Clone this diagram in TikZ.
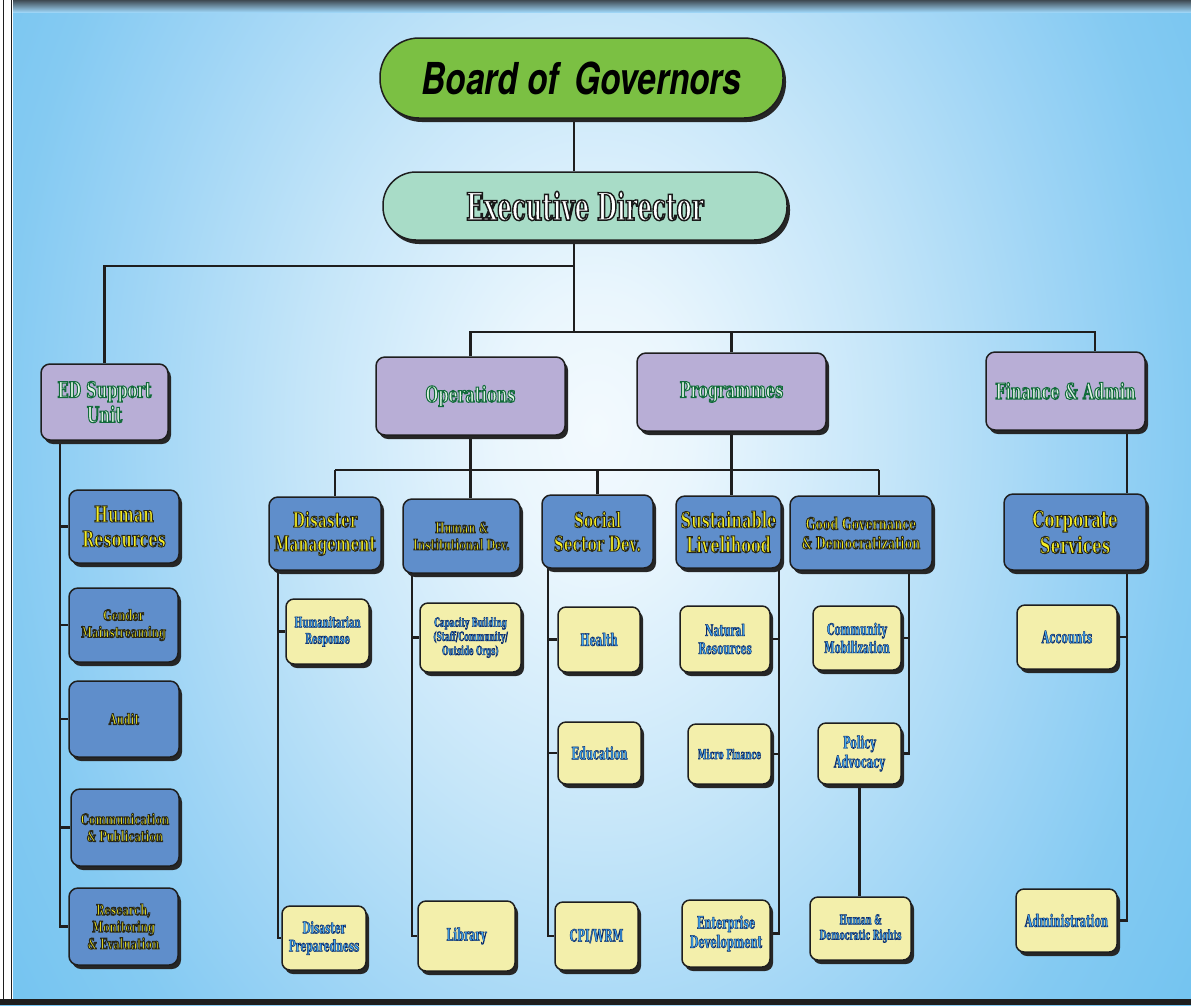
\documentclass[tikz,border=0pt]{standalone}
\usepackage{fontspec}
\usetikzlibrary{shadows}
\newfontfamily\bxfont{DejaVu Serif}[FakeStretch=0.66]
\newfontfamily\ybfont{DejaVu Serif}[FakeStretch=0.58]
\newfontfamily\edfont{DejaVu Serif}[FakeStretch=0.6]
\newfontfamily\bogfont{TeX Gyre Heros}[FakeStretch=0.76]
\definecolor{bogG}{HTML}{7BC043}
\definecolor{edT}{HTML}{A8DCC7}
\definecolor{purp}{HTML}{B8AED6}
\definecolor{blu}{HTML}{5F8ECB}
\definecolor{yel}{HTML}{F3EFAB}
\definecolor{ytxt}{HTML}{F5EE22}
\definecolor{btxt}{HTML}{42AAF2}
\definecolor{gtxt}{HTML}{DDF3E2}
\definecolor{lin}{HTML}{1E1E1E}
\definecolor{bg0}{HTML}{F3FAFE}
\definecolor{bg1}{HTML}{EAF6FD}
\definecolor{bg2}{HTML}{C6E6F9}
\definecolor{bg3}{HTML}{9DD4F5}
\definecolor{bg4}{HTML}{84CAF2}
\definecolor{bg5}{HTML}{62BDEE}
\definecolor{topband}{HTML}{3F4A52}
\pgfdeclareradialshading{bgsh}{\pgfpoint{0bp}{0bp}}{color(0bp)=(bg0); color(4bp)=(bg1); color(12bp)=(bg2); color(20bp)=(bg3); color(25bp)=(bg4); color(36bp)=(bg5); color(50bp)=(bg5)}
\newcommand\olset[2]{\special{pdf:literal 2 Tr #1 w #2 RG}}
\newcommand\fs[1]{\fontsize{#1}{#1}\selectfont\baselineskip=1.13\dimexpr #1pt\relax}
\pgfdeclarelayer{back}
\pgfdeclarelayer{lines}
\pgfsetlayers{back,lines,main}
\tikzset{
  conn/.style={draw=lin, line width=2.6pt},
  box/.style={draw=lin, line width=1.5pt, rounded corners=9pt, align=center, inner sep=2pt,
    drop shadow={shadow xshift=3pt, shadow yshift=-4pt, opacity=1, fill=black!85}},
  pbox/.style={box, fill=purp, font=\bxfont\bfseries\fs{#1}\color{gtxt}\olset{1.0}{0.07 0.42 0.23}},
  bbox/.style={box, fill=blu, font=\bxfont\bfseries\fs{#1}\color{ytxt}\olset{0.85}{0.15 0.15 0.1}},
  ybox/.style={box, rounded corners=8pt, fill=yel, font=\ybfont\bfseries\fs{#1}\color{btxt}\olset{0.45}{0.05 0.16 0.4}},
  oval/.style={draw=lin, line width=1.5pt, drop shadow={shadow xshift=3pt, shadow yshift=-4pt, opacity=1, fill=black!85}},
  dims/.style 2 args={minimum width=#1pt, minimum height=#2pt}
}
\begin{document}
\begin{tikzpicture}[x=1pt,y=-1pt]
\useasboundingbox (0,0) rectangle (1191,1005);
\begin{pgfonlayer}{back}
\begin{scope}
\clip (0,0) rectangle (1191,1005);
\shade[shading=bgsh] (0,-400) rectangle (1191,1260);
\end{scope}
\shade[top color=topband, bottom color=bg3] (0,0) rectangle (1191,12);
\fill[white] (0,0) rectangle (13,1005);
\draw[lin, line width=1.3pt] (3.5,0) -- (3.5,1005);
\draw[lin, line width=1.3pt] (11.8,0) -- (11.8,1000);
\fill[lin] (0,999) rectangle (1191,1005);
\end{pgfonlayer}

% top
\node[oval, fill=bogG, dims={403}{80}, rounded corners=39pt,
  font=\bogfont\bfseries\itshape\fontsize{44}{46}\selectfont\color{black}\special{pdf:literal 0 Tr}]
  (bog) at (581.5,78) {Board of\hspace{6pt} Governors};
\node[oval, fill=edT, dims={404}{68}, rounded corners=33pt,
  font=\edfont\bfseries\fontsize{38}{40}\selectfont\color{white}\olset{1.4}{0.1 0.1 0.1}]
  (ed) at (585,206) {Executive Director};

% level 1
\node[pbox=22, dims={127}{76}] (edsu) at (104.5,402) {ED Support\\Unit};
\node[pbox=22, dims={189}{78}] (ops) at (470.5,396) {Operations};
\node[pbox=22, dims={189}{78}] (prog) at (731.5,392) {Programmes};
\node[pbox=22, dims={159}{78}] (fin) at (1065.5,391) {Finance \& Admin};

% ED support children
\node[bbox=22, dims={110}{73}] (hr) at (124,526.5) {Human\\Resources};
\node[bbox=15, dims={109}{74}] (gm) at (123.5,625) {Gender\\Mainstreaming};
\node[bbox=15, dims={110}{76}] (au) at (124,719) {Audit};
\node[bbox=15, dims={108}{77}] (cp) at (125,827.5) {Communication\\\& Publication};
\node[bbox=15, dims={109}{77}] (rme) at (123.5,926.5) {Research,\\Monitoring\\\& Evaluation};

% level 2
\node[bbox=21, dims={112}{73}] (dm) at (325,533.5) {Disaster\\Management};
\node[bbox=15, dims={117}{74}] (hid) at (461.5,536) {Human \&\\Institutional Dev.};
\node[bbox=21, dims={111}{73}] (ssd) at (597.5,531.5) {Social\\Sector Dev.};
\node[bbox=22, dims={105}{72}] (sl) at (728.5,532) {Sustainable\\Livelihood};
\node[bbox=17, dims={142}{74}] (gg) at (861,533) {Good Governance\\\& Democratization};
\node[bbox=23, dims={142}{76}] (cs) at (1075,532) {Corporate\\Services};

% level 3
\node[ybox=14.5, dims={83}{65}] (hum) at (327.5,631.5) {Humanitarian\\Response};
\node[ybox=16, dims={84}{64}] (dp) at (324,938) {Disaster\\Preparedness};
\node[ybox=12.5, dims={101}{69}] (cb) at (470.5,637.5) {Capacity Building\\(Staff/Community/\\Outside Orgs)};
\node[ybox=17, dims={97}{70}] (lib) at (466.5,936) {Library};
\node[ybox=17, dims={82}{65}] (hea) at (599,639.5) {Health};
\node[ybox=17, dims={83}{62}] (edu) at (599.5,753) {Education};
\node[ybox=17, dims={83}{68}] (cpi) at (596.5,936) {CPI/WRM};
\node[ybox=16, dims={90}{66}] (nr) at (725,639) {Natural\\Resources};
\node[ybox=13.5, dims={83}{60}] (mf) at (729.5,754) {Micro Finance};
\node[ybox=17, dims={88}{67}] (ent) at (726,933.5) {Enterprise\\Development};
\node[ybox=16, dims={88}{64}] (cm) at (857,638) {Community\\Mobilization};
\node[ybox=17, dims={83}{61}] (pa) at (859.5,753.5) {Policy\\Advocacy};
\node[ybox=13.5, dims={101}{63}] (hdr) at (860.5,928.5) {Human \&\\Democratic Rights};
\node[ybox=17, dims={100}{64}] (acc) at (1067,637) {Accounts};
\node[ybox=17, dims={101}{63}] (adm) at (1066.5,920.5) {Administration};

% connectors
\begin{pgfonlayer}{lines}
\coordinate (j1) at (574,266);
\coordinate (j2) at (574,332);
\coordinate (fb) at (1095,332);
\coordinate (b2l) at (335,470);
\coordinate (b2r) at (879,470);
\draw[conn, line width=1.8pt] (bog.south -| j1) -- (ed.north -| j1);
\draw[conn] (ed.south -| j1) -- (j2);
\draw[conn] (j1) -| (edsu.north);
\draw[conn] (ops.north) |- (fb) -- (fb |- fin.north);
\draw[conn] (prog.north) -- (prog.north |- fb);
\draw[conn] (ops.south) -- (ops.south |- hid.north);
\draw[conn] (b2l) -- (b2r);
\draw[conn] (b2l) -- (b2l |- dm.north);
\draw[conn] (ssd.north) -- (ssd.north |- b2l);
\draw[conn] (prog.south) -- (prog.south |- sl.north);
\draw[conn] (b2r) -- (b2r |- gg.north);
\coordinate (ev) at ([xshift=-44.5pt]edsu.south);
\foreach \n in {hr,gm,au,cp,rme} \draw[conn] (ev) |- (\n.west);
\coordinate (dv) at ([xshift=-47pt]dm.south);
\foreach \n in {hum,dp} \draw[conn] (dv) |- (\n.west);
\coordinate (hv) at ([xshift=-49.5pt]hid.south);
\foreach \n in {cb,lib} \draw[conn] (hv) |- (\n.west);
\coordinate (sv) at ([xshift=-49.5pt]ssd.south);
\foreach \n in {hea,edu,cpi} \draw[conn] (sv) |- (\n.west);
\coordinate (lv) at ([xshift=50.5pt]sl.south);
\foreach \n in {nr,mf,ent} \draw[conn] (lv) |- (\n.east);
\coordinate (gv) at ([xshift=48pt]gg.south);
\foreach \n in {cm,pa} \draw[conn] (gv) |- (\n.east);
\draw[conn] (pa.south) -- (pa.south |- hdr.north);
\coordinate (fv) at ([xshift=61.5pt]fin.south);
\draw[conn] (fv) -- (fv |- cs.north);
\coordinate (cv) at ([xshift=52pt]cs.south);
\foreach \n in {acc,adm} \draw[conn] (cv) |- (\n.east);
\end{pgfonlayer}
\end{tikzpicture}
\end{document}
